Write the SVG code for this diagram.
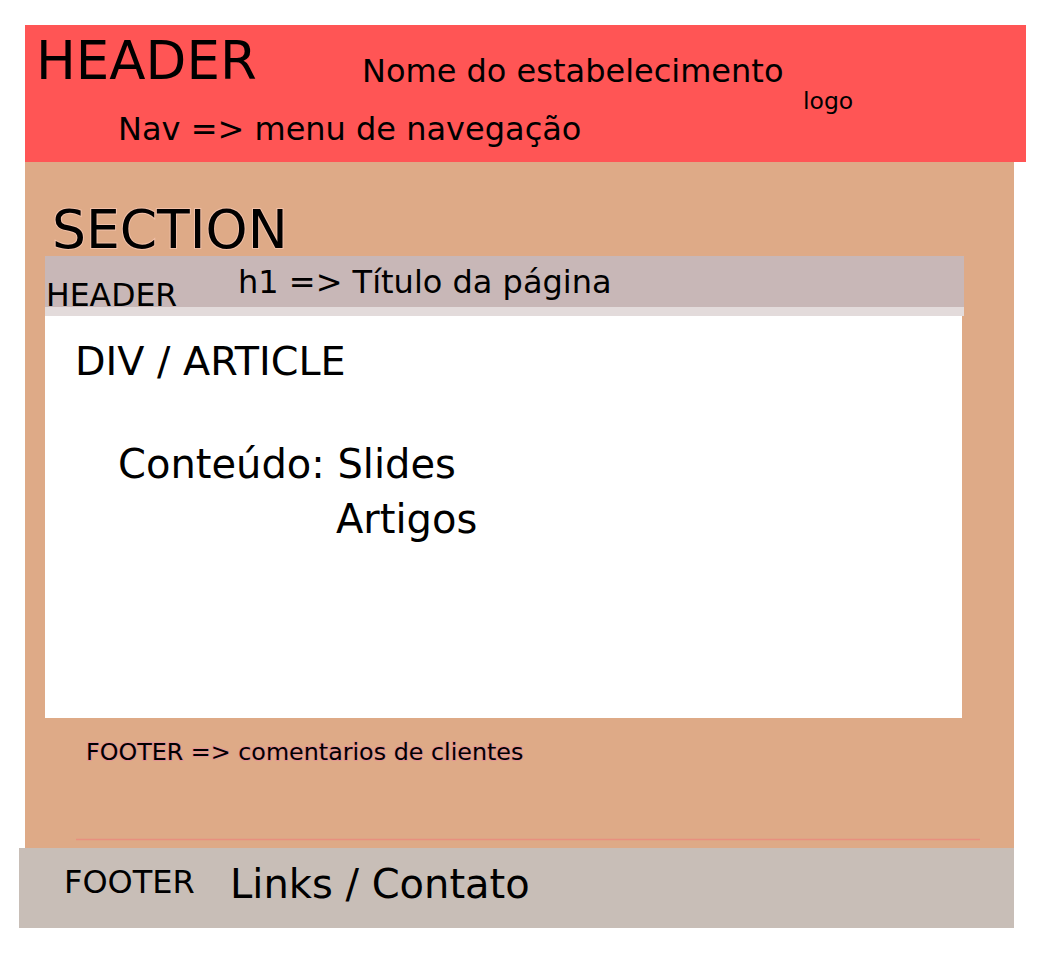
<svg xmlns="http://www.w3.org/2000/svg" width="1046" height="976" viewBox="0 0 1046 976">
<style>
text{font-family:"DejaVu Sans","Liberation Sans",sans-serif;fill:#000}
.halo{stroke:#f2c0a8;stroke-width:2;paint-order:stroke}
.pink{stroke:#e49494;stroke-width:2;paint-order:stroke}
</style>
<rect width="1046" height="976" fill="#ffffff"/>
<g id="section">
<rect x="25" y="162" width="989" height="686" fill="#deaa87"/>
<text x="52" y="248" font-size="53.5" class="halo">SECTION</text>
</g>
<g id="header">
<rect x="25" y="25" width="1001" height="137" fill="#ff5555"/>
<text x="36" y="79" font-size="53">HEADER</text>
<text x="362" y="82" font-size="32">Nome do estabelecimento</text>
<text x="803" y="109" font-size="23.5">logo</text>
<text x="118" y="140" font-size="32">Nav =&gt; menu de navegação</text>
</g>
<g id="section-header">
<rect x="45" y="256" width="919" height="51" fill="#c8b7b7"/>
<rect x="45" y="307" width="919" height="9" fill="#e3dbdb"/>
<text x="46" y="306" font-size="31.5">HEADER</text>
<text x="238" y="293" font-size="32">h1 =&gt; Título da página</text>
</g>
<g id="article">
<rect x="45" y="316" width="917" height="402" fill="#ffffff"/>
<text x="75" y="375" font-size="39.7">DIV / ARTICLE</text>
<text x="118" y="478" font-size="40">Conteúdo: Slides</text>
<text x="336" y="533" font-size="40">Artigos</text>
</g>
<g id="section-footer">
<text x="86" y="760" font-size="23.8" class="pink">FOOTER =&gt; comentarios de clientes</text>
</g>
<g id="connectors">
<line x1="76" y1="839.5" x2="980" y2="839.5" stroke="#e8907f" stroke-width="1.5"/>
</g>
<g id="footer">
<rect x="19" y="848" width="995" height="80" fill="#c8beb7"/>
<text x="64" y="893" font-size="32">FOOTER</text>
<text x="230" y="898" font-size="40">Links / Contato</text>
</g>
</svg>
